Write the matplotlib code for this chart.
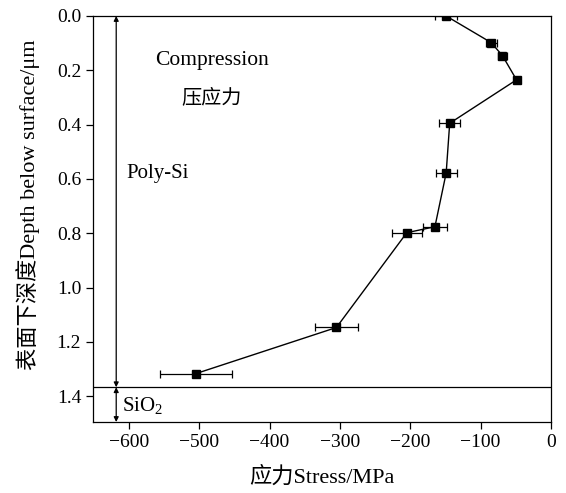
import matplotlib
matplotlib.use("Agg")
import matplotlib.pyplot as plt

plt.rcParams['font.family'] = ['Liberation Serif', 'Noto Sans CJK SC']
plt.rcParams['mathtext.fontset'] = 'custom'
plt.rcParams['mathtext.rm'] = 'Liberation Serif'

# stress profile
depth = [0.0, 0.098, 0.146, 0.235, 0.395, 0.578, 0.776, 0.798, 1.147, 1.317]
stress = [-149, -85, -69, -49, -144, -149, -165, -205, -305, -505]
stress_err = [16, 8, 7, 3, 15, 15, 17, 21, 31, 51]

interface_depth = 1.367
bottom_depth = 1.495
arrow_x = -618

x_ticks = [-600, -500, -400, -300, -200, -100, 0]
y_ticks = [0.0, 0.2, 0.4, 0.6, 0.8, 1.0, 1.2, 1.4]

fig = plt.figure(figsize=(5.66, 4.93), dpi=100)
ax = fig.add_axes([93 / 566, 1 - 422 / 493, 458 / 566, 406 / 493])

ax.errorbar(stress, depth, xerr=stress_err, color='black', marker='s',
            markersize=5.5, linewidth=1.0, elinewidth=0.9, capsize=3,
            capthick=0.9)

ax.axhline(interface_depth, color='black', linewidth=0.9)

# layer arrows
ax.annotate('', xy=(arrow_x, 0.0), xytext=(arrow_x, interface_depth),
            arrowprops=dict(arrowstyle='<|-|>', color='black', lw=0.9,
                            mutation_scale=7, shrinkA=0, shrinkB=0))
ax.annotate('', xy=(arrow_x, interface_depth), xytext=(arrow_x, bottom_depth),
            arrowprops=dict(arrowstyle='<|-|>', color='black', lw=0.9,
                            mutation_scale=7, shrinkA=0, shrinkB=0))

ax.text(-482, 0.165, 'Compression', fontsize=15.5, ha='center', va='center')
ax.text(-482, 0.30, '压应力', fontsize=14.5, ha='center', va='center',
        family=['Noto Sans CJK SC'], fontweight='medium')
ax.text(-604, 0.58, 'Poly-Si', fontsize=15, ha='left', va='center')
ax.text(-610, 1.435, r'SiO$_2$', fontsize=15, ha='left', va='center')

ax.set_xlim(-651, 0)
ax.set_ylim(bottom_depth, 0.0)
ax.set_xticks(x_ticks)
ax.set_xticklabels(['\u2212' + str(abs(v)) if v < 0 else str(v) for v in x_ticks])
ax.set_yticks(y_ticks)
ax.set_yticklabels(['{:.1f}'.format(v) for v in y_ticks])
ax.tick_params(direction='out', length=5, width=0.9, labelsize=14,
               top=False, right=False)
for s in ax.spines.values():
    s.set_linewidth(0.9)

ax.set_xlabel('应力Stress/MPa', fontsize=16, labelpad=11)
ax.set_ylabel('表面下深度Depth below surface/μm', fontsize=16)
ax.yaxis.set_label_coords(-0.115, 0.535)

fig.savefig('out.png', dpi=100)
